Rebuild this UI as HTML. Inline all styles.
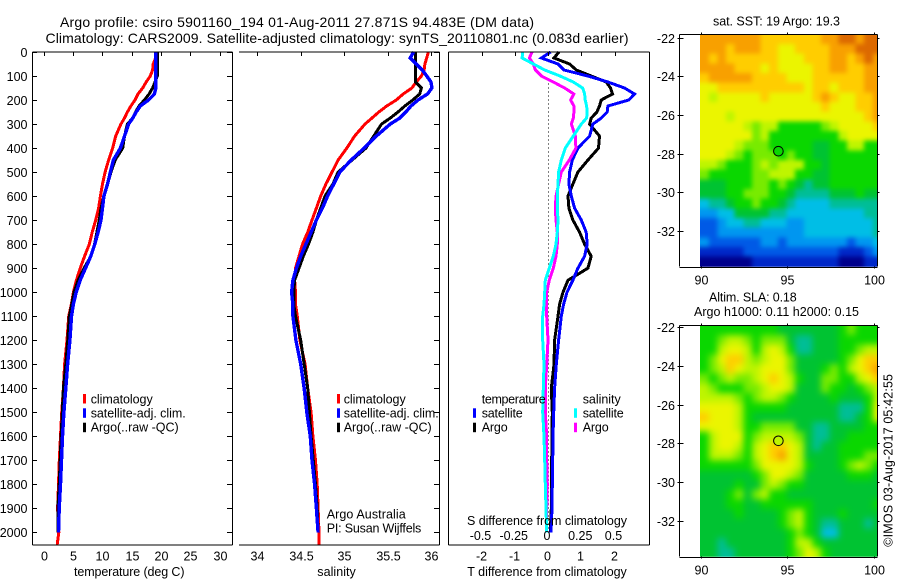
<!DOCTYPE html>
<html lang="en">
<head>
<meta charset="utf-8">
<title>Argo profile</title>
<style>
html,body{margin:0;padding:0;background:#fff;}
svg{display:block;}
text{font-family:"Liberation Sans",sans-serif;font-size:12.5px;fill:#000;}
.title{font-size:14px;}
</style>
</head>
<body>
<svg id="chart" xmlns="http://www.w3.org/2000/svg" width="900" height="580" viewBox="0 0 900 580">
<defs>
<filter id="sst-soften" filterUnits="userSpaceOnUse" x="660" y="0" width="240" height="300" color-interpolation-filters="sRGB"><feGaussianBlur stdDeviation="2.4"/></filter>
<filter id="sla-soften" filterUnits="userSpaceOnUse" x="660" y="300" width="240" height="280" color-interpolation-filters="sRGB"><feGaussianBlur stdDeviation="3.4"/></filter>
<clipPath id="sst-clip"><rect x="700" y="34.3" width="177.3" height="232.4"/></clipPath>
<clipPath id="sla-clip"><rect x="700" y="325.3" width="177.3" height="231.4"/></clipPath>
</defs>
<rect x="0" y="0" width="900" height="580" fill="#fff"/>
<text class="title" x="60" y="27" textLength="474" lengthAdjust="spacing">Argo profile: csiro 5901160_194 01-Aug-2011 27.871S 94.483E (DM data)</text>
<text class="title" x="45.5" y="43" textLength="583" lengthAdjust="spacing">Climatology: CARS2009. Satellite-adjusted climatology: synTS_20110801.nc (0.083d earlier)</text>

<g id="layer-t"></g>
<g id="layer-s"></g>
<g id="layer-d"></g>
<g id="layer-sst"></g>
<g id="layer-sla"></g>

<text x="74" y="576" textLength="110.5" lengthAdjust="spacing">temperature (deg C)</text>
<text x="317.3" y="576" textLength="38.5" lengthAdjust="spacing">salinity</text>
<text x="467.3" y="576" textLength="159.5" lengthAdjust="spacing">T difference from climatology</text>
<text x="467" y="525" textLength="160" lengthAdjust="spacing">S difference from climatology</text>

<g>
<rect x="83" y="394" width="3" height="9.5" fill="#f00"/>
<rect x="83" y="408.3" width="3" height="9.5" fill="#00f"/>
<rect x="83" y="422.7" width="3" height="9.5" fill="#000"/>
<text x="90.7" y="403.3" textLength="62" lengthAdjust="spacing">climatology</text>
<text x="90.7" y="417.3" textLength="95" lengthAdjust="spacing">satellite-adj. clim.</text>
<text x="90.7" y="431.3" textLength="88" lengthAdjust="spacing">Argo(..raw -QC)</text>
</g>
<g>
<rect x="337" y="394" width="3" height="9.5" fill="#f00"/>
<rect x="337" y="408.3" width="3" height="9.5" fill="#00f"/>
<rect x="337" y="422.7" width="3" height="9.5" fill="#000"/>
<text x="343.7" y="403.3" textLength="62" lengthAdjust="spacing">climatology</text>
<text x="343.7" y="417.3" textLength="95" lengthAdjust="spacing">satellite-adj. clim.</text>
<text x="343.7" y="431.3" textLength="88" lengthAdjust="spacing">Argo(..raw -QC)</text>
</g>
<text x="326.7" y="518.3" textLength="79" lengthAdjust="spacing">Argo Australia</text>
<text x="326.7" y="532.3" textLength="94.6" lengthAdjust="spacing">PI: Susan Wijffels</text>

<g>
<text x="481.7" y="403.3" textLength="64" lengthAdjust="spacing">temperature</text>
<rect x="473" y="408.3" width="3" height="9.5" fill="#00f"/>
<rect x="473" y="422.7" width="3" height="9.5" fill="#000"/>
<text x="481.7" y="417.3" textLength="41" lengthAdjust="spacing">satellite</text>
<text x="481.7" y="431.3" textLength="26" lengthAdjust="spacing">Argo</text>
<text x="582.7" y="403.3" textLength="38" lengthAdjust="spacing">salinity</text>
<rect x="574" y="408.3" width="3" height="9.5" fill="#0ff"/>
<rect x="574" y="422.7" width="3" height="9.5" fill="#f0f"/>
<text x="582.7" y="417.3" textLength="41" lengthAdjust="spacing">satellite</text>
<text x="582.7" y="431.3" textLength="26" lengthAdjust="spacing">Argo</text>
</g>

<text x="713" y="25.5" textLength="127" lengthAdjust="spacing">sat. SST: 19  Argo: 19.3</text>
<text x="709" y="301.7" textLength="87.7" lengthAdjust="spacing">Altim. SLA: 0.18</text>
<text x="694" y="316" textLength="165" lengthAdjust="spacing">Argo h1000: 0.11 h2000: 0.15</text>
<text transform="translate(892.3 546.7) rotate(-90)" x="0" y="0" textLength="172.7" lengthAdjust="spacing">©IMOS 03-Aug-2017 05:42:55</text>
</svg>

<script>
const depths = [0,25,50,75,100,125,150,175,200,225,250,275,300,350,400,450,500,550,600,650,700,750,800,850,900,950,1000,1050,1100,1200,1300,1400,1500,1600,1700,1800,1900,2000,2050];
const depthTicks = [0,100,200,300,400,500,600,700,800,900,1000,1100,1200,1300,1400,1500,1600,1700,1800,1900,2000];
const tempTicks = [0,5,10,15,20,25,30];
const salTicks = [34,34.5,35,35.5,36];
const salTickLabels = ['34','34.5','35','35.5','36'];
const tDiffTicks = [-2,-1,0,1,2];
const sDiffTicks = [-0.5,-0.25,0,0.25,0.5];
const sDiffTickLabels = ['-0.5','-0.25','0','0.25','0.5'];
const lonTicks = [90,95,100];
const latTicks = [-22,-24,-26,-28,-30,-32];

const climTemp = [19.1,19.1,18.7,18.6,18.2,17.5,16.9,16.1,15.6,14.9,14.3,13.8,13.2,12.3,11.8,11.1,10.5,10.06,9.7,9.4,8.9,8.3,7.8,7.0,6.25,5.6,5.1,4.75,4.3,4.0,3.6,3.4,3.1,2.9,2.7,2.56,2.4,2.6,2.33];
const argoTemp = [19.4,19.4,19.4,19.4,19.4,19.0,18.6,18,17.2,16.3,15.7,15.2,14.3,13.8,13.5,12.2,11.5,10.9,10.3,9.8,9.5,9.1,8.7,8.1,6.9,5.9,5.2,4.8,4.4,4.15,3.8,3.4,3.2,3.0,2.84,2.67,2.44,2.44];
const satTemp = [19.15,19.15,19.15,19.15,19.15,19.15,19.15,18.9,17.9,16.5,15.8,15.2,14.5,13.8,13.1,11.9,11.4,10.9,10.3,10.06,9.8,9.3,8.75,8.07,7.16,6.25,5.57,5.1,4.77,4.5,4.1,3.8,3.47,3.24,3.07,2.9,2.67,2.56];

const climSal = [35.97,35.95,35.93,35.92,35.89,35.83,35.78,35.68,35.6,35.49,35.4,35.32,35.24,35.12,35.03,34.93,34.86,34.79,34.73,34.68,34.63,34.58,34.52,34.48,34.44,34.43,34.44,34.44,34.46,34.49,34.55,34.58,34.62,34.64,34.67,34.69,34.7,34.71,34.71];
const argoSal = [35.82,35.82,35.82,35.82,35.82,35.82,35.89,35.87,35.79,35.7,35.62,35.53,35.43,35.34,35.25,35.09,34.93,34.87,34.78,34.73,34.68,34.64,34.59,34.53,34.48,34.43,34.42,34.42,34.44,34.5,34.54,34.58,34.6,34.62,34.645,34.67,34.69,34.7];
const satSal = [35.8,35.76,35.83,35.9,35.95,36,36.01,35.96,35.85,35.77,35.71,35.64,35.53,35.37,35.23,35.08,34.95,34.88,34.81,34.75,34.68,34.62,34.56,34.5,34.45,34.41,34.395,34.41,34.41,34.445,34.5,34.54,34.57,34.61,34.63,34.66,34.68,34.7];

const argoTDiff = [0.33,0.18,0.65,0.85,1.3,1.75,1.88,1.94,1.6,1.55,1.47,1.3,1.25,1.55,1.52,1.2,0.9,0.75,0.6,0.63,0.75,0.95,1.1,1.3,1.2,0.6,0.45,0.35,0.3,0.2,0.18,0.1,0.13,0.12,0.11,0.11,0.1,0.07];
const satTDiff = [0.08,-0.2,0.3,0.48,1.2,1.8,2.3,2.6,2.43,1.8,1.78,1.6,1.35,1.25,0.9,0.73,0.65,0.63,0.7,0.8,1,1.15,1.18,1.1,0.9,0.75,0.57,0.47,0.4,0.32,0.25,0.2,0.17,0.15,0.14,0.13,0.12,0.09];
const argoSDiff = [-0.12,-0.14,-0.11,-0.095,-0.05,0.04,0.125,0.195,0.17,0.195,0.195,0.19,0.175,0.205,0.21,0.16,0.1,0.08,0.06,0.055,0.06,0.07,0.07,0.06,0.04,0.01,-0.01,-0.01,-0.01,0,-0.01,-0.02,-0.02,-0.01,-0.01,-0.005,-0.01,-0.01];
const satSDiff = [-0.19,-0.195,-0.11,-0.025,0.09,0.19,0.26,0.275,0.28,0.29,0.295,0.29,0.25,0.19,0.13,0.1,0.08,0.075,0.07,0.07,0.075,0.07,0.06,0.04,0.01,-0.02,-0.025,-0.03,-0.04,-0.04,-0.03,-0.035,-0.04,-0.03,-0.025,-0.02,-0.015,-0.01];
const zeroLineDepths = [115,2000];

const profileLon = [94.483];
const profileLat = [-27.871];
const sstMarkerLevel = [7];
const slaMarkerLevel = [9];

const sstLevels = [
[12,12,12,12,12,12,12,11,11,11,11,11,11,11,12,12,13,13,12,13,13],
[12,12,12,11,12,12,12,11,11,10,10,11,11,11,11,12,12,12,13,13,13],
[12,11,12,11,11,11,11,11,11,10,10,10,11,11,11,12,12,11,12,13,12],
[12,12,12,12,11,11,11,10,11,10,10,10,10,11,11,12,12,11,11,12,12],
[11,12,12,12,12,12,11,11,11,11,10,10,10,11,11,11,11,11,11,12,12],
[10,10,11,11,11,11,11,11,11,11,11,11,10,11,11,10,11,11,11,12,12],
[10,9,10,10,10,10,10,11,10,10,10,10,10,11,12,11,10,10,11,11,12],
[10,10,10,10,10,10,10,10,10,10,10,10,10,10,11,10,10,10,11,11,12],
[10,10,10,9,10,10,10,10,10,10,10,10,10,10,10,10,10,10,10,11,12],
[10,10,10,10,10,9,8,9,9,7,7,7,7,7,8,9,10,10,10,10,11],
[10,10,10,10,10,10,8,9,7,7,7,7,7,7,7,7,9,10,10,10,10],
[10,10,10,10,9,8,8,8,7,7,7,7,7,6,6,7,7,9,9,7,7],
[10,10,10,9,8,7,8,8,8,7,8,7,7,6,6,7,7,7,7,7,7],
[9,9,8,7,7,7,8,9,8,9,9,9,7,7,6,7,7,7,7,7,7],
[8,7,7,7,7,7,8,8,9,9,9,7,7,6,6,7,7,7,7,7,7],
[6,6,6,7,7,7,8,8,7,8,7,6,5,6,6,7,7,7,7,7,7],
[6,6,6,7,7,8,8,8,7,7,6,5,5,5,5,6,6,6,7,6,6],
[4,5,5,6,7,7,8,7,7,6,5,4,4,4,4,5,5,5,5,5,5],
[3,3,4,4,6,6,6,6,5,5,4,4,4,4,4,4,4,4,4,5,5],
[2,2,3,4,4,5,5,4,4,4,3,3,4,4,4,4,4,4,4,4,5],
[2,2,3,3,3,3,3,3,3,3,3,3,4,4,4,4,4,4,4,4,5],
[3,2,2,2,2,2,2,3,3,2,3,3,3,3,3,3,3,2,3,3,4],
[1,1,1,1,1,2,2,2,2,2,2,2,2,2,2,2,1,1,1,2,3],
[0,0,0,0,0,0,1,1,1,1,1,1,1,1,1,1,0,0,0,1,1]
];

const slaLevels = [
[7,7,7,7,7,7,7,7,7,6,6,6,6,6,6,6,7,8,7,7,7],
[7,7,8,9,9,8,7,8,8,8,6,5,5,6,6,6,7,7,7,7,7],
[7,7,9,10,10,9,7,9,10,9,7,5,5,6,6,6,7,7,8,9,9],
[7,8,10,11,11,9,8,9,10,10,8,6,6,6,6,6,7,8,10,11,11],
[7,8,9,11,10,9,9,10,10,10,8,6,6,6,7,8,7,9,10,11,12],
[8,7,8,9,8,8,9,10,11,10,9,7,6,6,8,8,7,7,9,10,11],
[9,8,7,7,7,8,8,9,10,10,9,6,6,6,8,7,7,6,7,8,9],
[9,9,9,9,8,7,8,9,9,8,7,6,6,6,6,7,6,6,6,7,9],
[10,10,10,10,9,7,7,7,7,7,6,6,6,6,6,6,5,5,5,7,10],
[11,10,10,10,9,7,6,6,6,6,6,6,6,6,6,6,5,5,6,7,10],
[10,10,10,10,9,7,7,8,8,8,8,6,6,5,5,6,6,6,6,7,7],
[7,9,10,10,10,7,8,9,9,9,9,8,6,5,5,6,6,7,7,7,7],
[7,9,10,10,9,7,9,10,11,11,10,9,6,5,6,6,7,7,7,7,7],
[7,9,9,9,8,7,9,10,11,12,10,9,6,6,6,6,7,7,7,8,8],
[7,7,7,7,7,7,8,10,10,10,10,9,7,6,6,6,7,8,9,8,7],
[6,6,6,6,6,6,7,8,10,10,9,8,6,6,6,6,6,7,7,7,6],
[6,6,6,6,7,6,6,8,9,8,7,7,6,6,6,6,6,6,6,6,6],
[6,6,6,7,8,6,8,9,7,7,6,6,6,6,6,6,6,6,6,6,6],
[6,6,6,7,7,6,6,7,7,7,7,7,7,6,6,6,6,6,6,6,7],
[6,6,6,6,7,6,6,6,6,7,8,9,7,6,6,6,7,6,6,6,6],
[6,6,6,6,6,6,6,6,6,7,8,9,7,6,5,5,6,6,6,5,6],
[6,6,6,6,6,6,6,6,6,6,7,8,7,6,4,4,6,6,6,6,6],
[6,6,5,6,6,6,6,6,6,6,7,9,9,7,6,6,6,6,6,6,6],
[6,6,5,5,6,6,6,6,6,6,7,8,10,9,7,6,6,6,6,6,6]
];

const NS = 'http://www.w3.org/2000/svg';
const levelColors = ['#00008c','#0028c8','#005ae6','#0096f0','#00bee6','#00be96','#00c332','#0ad700','#78eb00','#bef500','#ebf500','#ffcd00','#f8a000','#dc6900'];

function make(tag, parent, attrs, text) {
  const el = document.createElementNS(NS, tag);
  for (const k in attrs) el.setAttribute(k, attrs[k]);
  if (text !== undefined) el.textContent = text;
  parent.appendChild(el);
  return el;
}
function depthY(d) { return 52 + d * 0.2402; }
function tempX(v) { return 43.5 + v * 5.867; }
function salX(v) { return 257.3 + (v - 34) * 86.85; }
function tDiffX(v) { return 548 + v * 33.25; }
function sDiffX(v) { return 548 + v * 133; }

function hline(parent, x1, x2, y, name) {
  const el = make('line', parent, {x1: x1, x2: x2, y1: y, y2: y, stroke: '#000', 'stroke-width': 1, 'shape-rendering': 'crispEdges'});
  
  
  return el;
}
function vline(parent, x, y1, y2, name) {
  const el = make('line', parent, {x1: x, x2: x, y1: y1, y2: y2, stroke: '#000', 'stroke-width': 1, 'shape-rendering': 'crispEdges'});
  
  
  return el;
}
function label(parent, x, y, anchor, str, name) {
  const el = make('text', parent, {x: x, y: y, 'text-anchor': anchor}, str);
  
  
  return el;
}
function profile(parent, xFn, values, color, width, name) {
  const pts = values.map(function (v, i) { return xFn(v).toFixed(1) + ',' + depthY(depths[i]).toFixed(1); }).join(' ');
  const el = make('polyline', parent, {points: pts, fill: 'none', stroke: color, 'stroke-width': width, 'stroke-linejoin': 'miter', 'shape-rendering': 'crispEdges'});
  
  
  return el;
}

const TOP = 52, BOT = 545;

/* temperature panel */
const gT = document.getElementById('layer-t');
profile(gT, tempX, climTemp, '#f00', 3, 'climatology-temperature-line');
profile(gT, tempX, argoTemp, '#000', 3, 'argo-temperature-line');
profile(gT, tempX, satTemp, '#00f', 3.4, 'satellite-temperature-line');
hline(gT, 32.5, 232.5, TOP, 'temperature-top-axis');
hline(gT, 32.5, 232.5, BOT, 'temperature-bottom-axis');
vline(gT, 32.5, TOP, BOT, 'temperature-left-axis');
vline(gT, 232.5, TOP, BOT, 'depth-right-axis');
depthTicks.forEach(function (d) {
  const y = Math.round(depthY(d)) + 0.5;
  hline(gT, 32.5, 37, y, 'depth-tick-left');
  hline(gT, 227, 232.5, y, 'depth-tick-right');
  label(gT, 27.5, y + 4.5, 'end', String(d), 'depth-tick-label');
});
tempTicks.forEach(function (t) {
  const x = Math.round(tempX(t)) + 0.5;
  vline(gT, x, TOP, TOP + 4, 'temperature-tick');
  label(gT, x, 560.5, 'middle', String(t), 'temperature-tick-label');
});

/* salinity panel */
const gS = document.getElementById('layer-s');
profile(gS, salX, climSal, '#f00', 3, 'climatology-salinity-line');
profile(gS, salX, argoSal, '#000', 3, 'argo-salinity-line');
profile(gS, salX, satSal, '#00f', 3.4, 'satellite-salinity-line');
hline(gS, 239, 439.5, TOP, 'salinity-top-axis');
hline(gS, 239, 439.5, BOT, 'salinity-bottom-axis');
vline(gS, 439.5, TOP, BOT, 'salinity-right-axis');
depthTicks.forEach(function (d) {
  const y = Math.round(depthY(d)) + 0.5;
  hline(gS, 434, 439.5, y, 'salinity-depth-tick');
});
salTicks.forEach(function (s, i) {
  const x = Math.round(salX(s)) + 0.5;
  vline(gS, x, TOP, TOP + 4, 'salinity-tick');
  label(gS, x, 560.5, 'middle', salTickLabels[i], 'salinity-tick-label');
});

/* difference panel */
const gD = document.getElementById('layer-d');
const zero = make('line', gD, {x1: tDiffX(0) + 0.5, x2: tDiffX(0) + 0.5, y1: depthY(zeroLineDepths[0]), y2: depthY(zeroLineDepths[1]), stroke: '#000', 'stroke-width': 1, 'stroke-dasharray': '1 3', 'shape-rendering': 'crispEdges'});


profile(gD, tDiffX, argoTDiff, '#000', 3, 'argo-t-difference-line');
profile(gD, tDiffX, satTDiff, '#00f', 3, 'satellite-t-difference-line');
profile(gD, sDiffX, argoSDiff, '#f0f', 3, 'argo-s-difference-line');
profile(gD, sDiffX, satSDiff, '#0ff', 3, 'satellite-s-difference-line');
hline(gD, 448.5, 649.5, TOP, 'difference-top-axis');
hline(gD, 448.5, 649.5, BOT, 'difference-bottom-axis');
vline(gD, 448.5, TOP, BOT, 'difference-left-axis');
vline(gD, 649.5, TOP, BOT, 'difference-right-axis');
tDiffTicks.forEach(function (t) {
  const x = Math.round(tDiffX(t)) + 0.5;
  vline(gD, x, TOP, TOP + 4, 'difference-tick');
  label(gD, x - 1, 560.5, 'middle', String(t), 't-difference-tick-label');
});
sDiffTicks.forEach(function (s, i) {
  label(gD, sDiffX(s) - 1, 540, 'middle', sDiffTickLabels[i], 's-difference-tick-label');
});

/* maps */
function drawMap(groupId, levels, top, bottom, lat22Y, markerLevel, prefix, clipId, filterId) {
  const g = document.getElementById(groupId);
  const clip = make('g', g, {'clip-path': 'url(#' + clipId + ')'});
  
  
  const image = make('g', clip, {filter: 'url(#' + filterId + ')'});
  
  
  const lonX = function (lon) { return 701 + (lon - 90) * 17.27; };
  const latY = function (lat) { return lat22Y + (-22 - lat) * 19.33; };
  const latTop = -22 + (lat22Y - top) / 19.33;
  const nRows = levels.length;
  levels.forEach(function (row, j) {
    const nCols = row.length;
    row.forEach(function (lev, i) {
      let x0 = lonX(89.95 + i * 0.5);
      let x1 = lonX(89.95 + (i + 1) * 0.5);
      let y0 = latY(latTop - j * 0.5);
      let y1 = latY(latTop - (j + 1) * 0.5);
      if (i === 0) x0 -= 14;
      if (i === nCols - 1) x1 += 14;
      if (j === 0) y0 -= 14;
      if (j === nRows - 1) y1 += 14;
      const cell = make('rect', image, {x: x0.toFixed(2), y: y0.toFixed(2), width: (x1 - x0 + 0.3).toFixed(2), height: (y1 - y0 + 0.3).toFixed(2), fill: levelColors[lev], 'shape-rendering': 'crispEdges'});
      
      
    });
  });
  const L = 679.5, R = 877.5;
  hline(g, L, R, Math.round(top) + 0.5, prefix + '-top-axis');
  hline(g, L, R, Math.round(bottom) + 0.5, prefix + '-bottom-axis');
  vline(g, L, top, bottom, prefix + '-left-axis');
  vline(g, R, top, bottom, prefix + '-right-axis');
  latTicks.forEach(function (lat) {
    const y = Math.round(latY(lat)) + 0.5;
    hline(g, L - 2, L + 4, y, prefix + '-lat-tick');
    hline(g, R, R + 2, y, prefix + '-lat-tick');
    label(g, 675, y + 4.5, 'end', String(lat), prefix + '-lat-tick-label');
  });
  lonTicks.forEach(function (lon) {
    const x = Math.round(lonX(lon)) + 0.5;
    vline(g, x, top - 2, top, prefix + '-lon-tick');
    vline(g, x, bottom, bottom + 2, prefix + '-lon-tick');
    label(g, x, bottom + 18, 'middle', String(lon), prefix + '-lon-tick-label');
  });
  const mark = make('circle', g, {cx: lonX(profileLon[0]).toFixed(1), cy: latY(profileLat[0]).toFixed(1), r: 4.8, fill: levelColors[markerLevel[0]], stroke: '#000', 'stroke-width': 1});
  
  
}
drawMap('layer-sst', sstLevels, 34.3, 266.7, 37.7, sstMarkerLevel, 'sst-map', 'sst-clip', 'sst-soften');
drawMap('layer-sla', slaLevels, 325.3, 556.7, 327.3, slaMarkerLevel, 'sla-map', 'sla-clip', 'sla-soften');
</script>
</body>
</html>
